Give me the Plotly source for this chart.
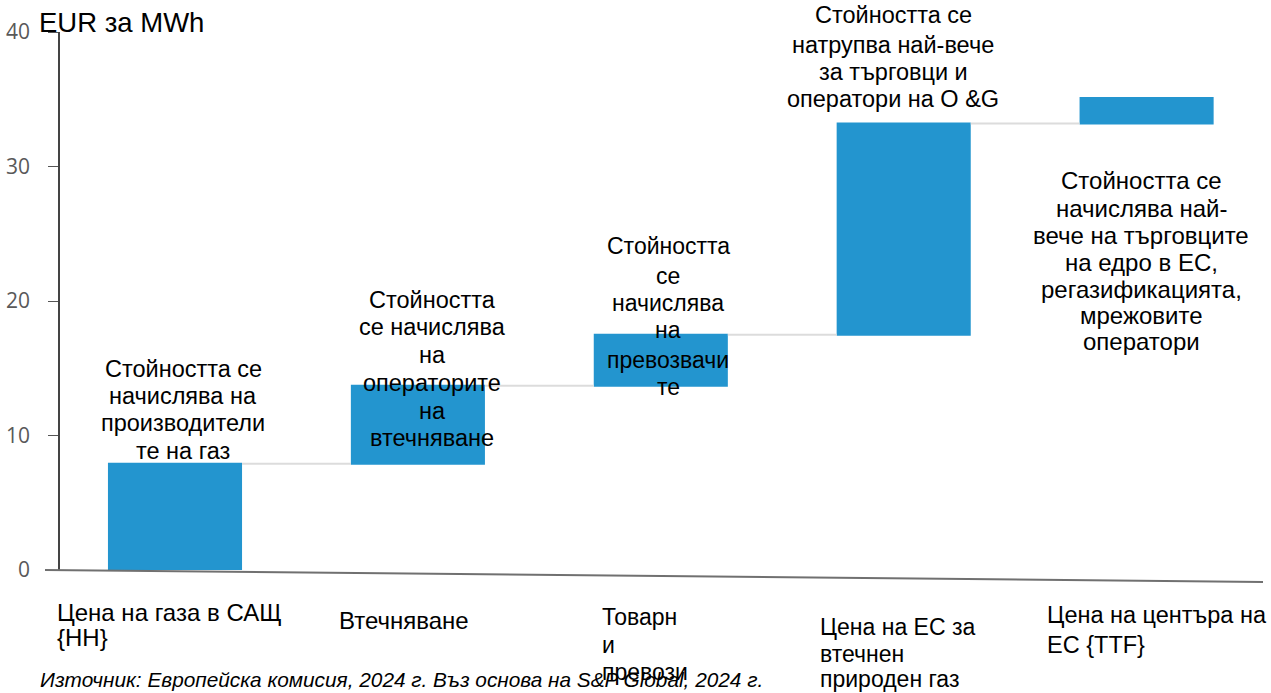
import plotly.graph_objects as go

# Value chain of LNG from US Henry Hub to EU TTF, EUR per MWh
steps = ["Цена на газа в САЩ {HH}", "Втечняване", "Товарни превози",
         "Цена на ЕС за втечнен природен газ", "Цена на центъра на ЕС {TTF}"]
increments = [7.9, 5.8, 3.8, 15.7, 1.9]
measures = ["relative", "relative", "relative", "relative", "relative"]

step_labels = [
    ["Цена на газа в САЩ", "{HH}"],
    ["Втечняване"],
    ["Товарн", "и", "превози"],
    ["Цена на ЕС за", "втечнен", "природен газ"],
    ["Цена на центъра на", "ЕС {TTF}"],
]

notes = [
    ["Стойността се", "начислява на", "производители", "те на газ"],
    ["Стойността", "се начислява", "на", "операторите", "на", "втечняване"],
    ["Стойността", "се", "начислява", "на", "превозвачи", "те"],
    ["Стойността се", "натрупва най-вече", "за търговци и", "оператори на О &G"],
    ["Стойността се", "начислява най-", "вече на търговците", "на едро в ЕС,",
     "регазификацията,", "мрежовите", "оператори"],
]

y_ticks = [0, 10, 20, 30, 40]

W, H = 1271, 693
L, R, T, B = 60, 6, 32, 123
PW, PH = W - L - R, H - T - B


def px(x):
    return (x - L) / PW


def py(y):
    return (H - B - y) / PH


BAR = "#2395CF"
SANS = "Liberation Sans, Arial, sans-serif"

# category axis placement: first bar centred at 175 px, 242.9 px per step
x0 = -(175 - L) / 242.9
x1 = x0 + PW / 242.9

fig = go.Figure(go.Waterfall(
    x=steps,
    y=increments,
    measure=measures,
    increasing=dict(marker=dict(color=BAR)),
    decreasing=dict(marker=dict(color=BAR)),
    totals=dict(marker=dict(color=BAR)),
    connector=dict(line=dict(color="#dcdcdc", width=2)),
    width=0.552,
    hoverinfo="x+y",
    showlegend=False,
))

fig.update_layout(
    width=W, height=H,
    margin=dict(l=L, r=R, t=T, b=B, pad=0),
    paper_bgcolor="white", plot_bgcolor="white",
    font=dict(family=SANS, color="black"),
    xaxis=dict(
        showticklabels=False, ticks="", showgrid=False, zeroline=False,
        showline=False, range=[x0, x1],
    ),
    yaxis=dict(
        range=[0, 40], tickvals=y_ticks, ticktext=[str(v) for v in y_ticks],
        ticks="outside", ticklen=10, tickcolor="#555555", tickwidth=1,
        ticklabelstandoff=14,
        tickfont=dict(size=21, color="#595959", family="Open Sans, sans-serif"),
        showgrid=False, zeroline=False,
        showline=True, linecolor="#444444", linewidth=1.5,
    ),
)

# baseline of the chart, running slightly past the value axis
fig.add_shape(type="line", xref="paper", yref="paper",
              x0=px(45), y0=py(570), x1=px(1263), y1=py(582),
              line=dict(color="#707070", width=2))

annotations = []


def add_lines(lines, x, ys, size, anchor):
    for txt, y in zip(lines, ys):
        annotations.append(dict(text=txt, x=px(x), y=py(y), xref="paper", yref="paper",
                                xanchor=anchor, yanchor="middle", showarrow=False,
                                font=dict(size=size, family=SANS, color="black")))


# Axis unit label
add_lines(["EUR за MWh"], 37, [22], 27.5, "left")

# Notes over the bars
note_layout = [
    (183, [369, 396, 423, 451], 23.5),
    (432, [300, 327, 355, 383, 411, 438], 23.5),
    (668, [246, 276, 303, 330, 360, 387], 23),
    (893, [15, 45, 72, 99], 23.5),
    (1141, [180, 208, 235, 262, 289, 315, 341], 24),
]
for lines, (x, ys, sz) in zip(notes, note_layout):
    add_lines(lines, x, ys, sz, "center")

# Category labels under the axis
label_layout = [
    (55, [612, 637], 24),
    (337, [620], 24),
    (600, [617, 645, 672], 23),
    (818, [627, 654, 679], 23),
    (1045, [615, 645], 23.5),
]
for lines, (x, ys, sz) in zip(step_labels, label_layout):
    add_lines(lines, x, ys, sz, "left")

# Source line
annotations.append(dict(text="<i>Източник: Европейска комисия, 2024 г. Въз основа на S&P Global, 2024 г.</i>",
                        x=px(38), y=py(680), xref="paper", yref="paper",
                        xanchor="left", yanchor="middle", showarrow=False,
                        font=dict(size=20.8, family=SANS, color="black")))

fig.update_layout(annotations=annotations)

fig.write_html("out.html")
